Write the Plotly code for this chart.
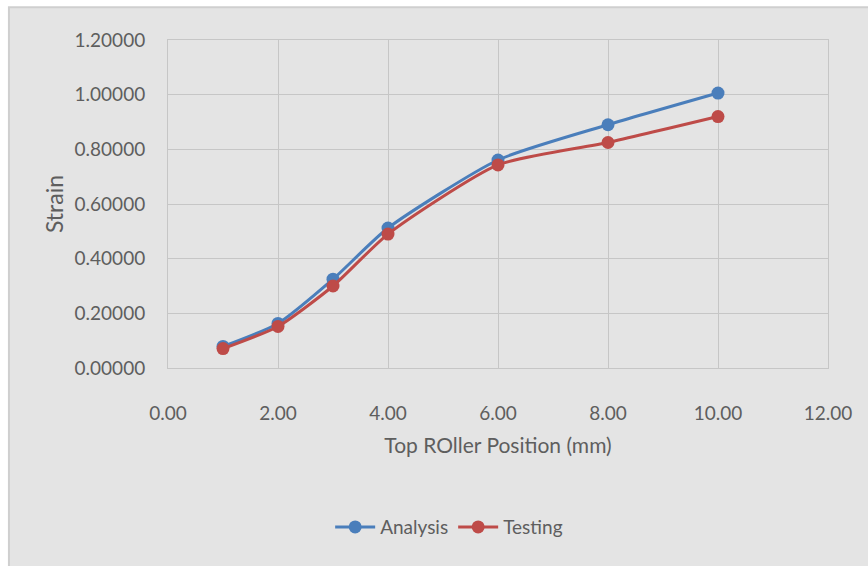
import plotly.graph_objects as go

# Roller position (mm) and measured / computed strain
positions = [1, 2, 3, 4, 6, 8, 10]
analysis_strain = [0.079, 0.163, 0.325, 0.512, 0.761, 0.890, 1.006]
testing_strain = [0.071, 0.152, 0.300, 0.490, 0.743, 0.825, 0.920]

x_ticks = [0, 2, 4, 6, 8, 10, 12]
y_ticks = [0.0, 0.2, 0.4, 0.6, 0.8, 1.0, 1.2]

FONT = "Lato, Roboto, sans-serif"
TEXT = "#5e5e5e"
GRID = "#c6c6c6"
BG = "#e4e4e4"

fig = go.Figure()
fig.add_trace(go.Scatter(
    x=positions, y=analysis_strain, name="Analysis",
    mode="lines+markers", line=dict(color="#4a7ebb", width=3, shape="spline", smoothing=0.6),
    marker=dict(size=13, color="#4a7ebb"),
))
fig.add_trace(go.Scatter(
    x=positions, y=testing_strain, name="Testing",
    mode="lines+markers", line=dict(color="#be4b48", width=3, shape="spline", smoothing=0.6),
    marker=dict(size=13, color="#be4b48"),
))

# chart-area panel behind the plot (paper coords are relative to the plot area)
fig.add_shape(type="rect", xref="paper", yref="paper",
              x0=-0.241, x1=1.07, y0=-0.62, y1=1.10,
              fillcolor=BG, line=dict(color="#cfcfcf", width=2), layer="below")

fig.update_layout(
    width=868, height=566,
    margin=dict(l=168, r=40, t=40, b=198),
    paper_bgcolor="white", plot_bgcolor=BG,
    font=dict(family=FONT, color=TEXT, size=19),
    showlegend=True,
    legend=dict(orientation="h", x=0.426, xanchor="center", y=-0.485, yanchor="middle",
                font=dict(size=19, color=TEXT), bgcolor="rgba(0,0,0,0)",
                itemwidth=40, tracegroupgap=0),
    xaxis=dict(range=[0, 12], tickvals=x_ticks, ticktext=[f"{v:.2f}" for v in x_ticks],
               showgrid=True, gridcolor=GRID, gridwidth=1, zeroline=False,
               showline=True, linecolor=GRID, mirror=True, ticks="",
               ticklabelstandoff=28,
               tickfont=dict(size=19, color=TEXT),
               title=dict(text="Top ROller Position (mm)", font=dict(size=21, color=TEXT), standoff=15)),
    yaxis=dict(range=[0, 1.2], tickvals=y_ticks, ticktext=[f"{v:.5f}" for v in y_ticks],
               showgrid=True, gridcolor=GRID, gridwidth=1, zeroline=False,
               showline=True, linecolor=GRID, mirror=True, ticks="",
               ticklabelstandoff=18,
               tickfont=dict(size=19, color=TEXT),
               title=dict(text="Strain", font=dict(size=23, color=TEXT), standoff=4)),
)

fig.write_html("out.html")
